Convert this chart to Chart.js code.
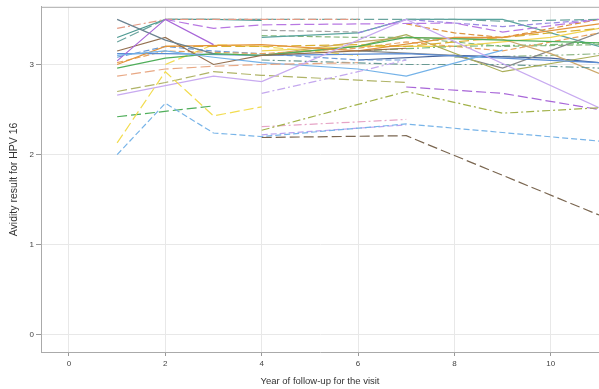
<!DOCTYPE html>
<html lang="en">
<head>
    <meta charset="UTF-8" />
    <title>Avidity result for HPV 16</title>
    <style>
        * { margin: 0; padding: 0; box-sizing: border-box; }
        body { background: #fff; width: 599px; height: 389px; overflow: hidden; }
        .wrap { position: relative; width: 599px; height: 389px; }
    </style>
</head>
<body>
    <div class="wrap">
        <canvas id="avidityChart" width="599" height="389"></canvas>
    </div>
    <script src="https://cdn.jsdelivr.net/npm/chart.js"></script>
    <script>
        // follow-up years, one value per year (null = no visit)
        const years = [1, 2, 3, 4, 5, 6, 7, 8, 9, 10, 11];
        const _ = null;

        const s01 = [_, _, _, 2.19, _, _, 2.21, _, _, _, 1.33];
        const s02 = [2.0, 2.57, 2.24, 2.2, _, _, 2.34, _, _, _, 2.15];
        const s03 = [2.13, 2.92, 2.43, 2.53, _, _, _, _, _, _, _];
        const s04 = [2.42, _, 2.54, _, _, _, _, _, _, _, _];
        const s05 = [_, _, _, 2.27, _, _, 2.7, _, 2.46, _, 2.52];
        const s06 = [_, _, _, 2.31, _, _, 2.39, _, _, _, _];
        const s07 = [_, _, _, 2.22, _, _, 2.33, _, _, _, _];
        const s08 = [_, _, _, _, _, _, 2.75, _, 2.68, _, 2.5];
        const s09 = [2.66, _, 2.87, 2.81, _, _, 3.5, _, _, _, 2.52];
        const s10 = [_, _, _, 2.68, _, 2.92, 3.05, _, _, _, _];
        const s11 = [2.7, 2.8, 2.92, 2.88, _, _, 2.8, _, _, _, _];
        const s12 = [2.87, 2.95, 2.98, 3.0, _, 3.02, _, _, _, _, _];
        const s13 = [3.1, 3.15, 3.08, 3.02, _, 2.95, 2.87, _, 3.16, _, _];
        const s14 = [3.04, 3.5, 3.22, _, _, _, _, _, _, _, _];
        const s15 = [_, 3.5, 3.4, 3.44, _, 3.45, _, 3.46, 3.36, _, 3.5];
        const s16 = [3.5, 3.27, 3.12, _, _, _, _, _, _, _, _];
        const s17 = [3.4, 3.5, _, 3.5, _, 3.5, _, _, _, _, _];
        const s18 = [3.25, 3.5, _, 3.5, _, _, 3.5, 3.5, 3.48, _, 3.5];
        const s19 = [3.3, 3.5, 3.5, 3.49, _, _, _, _, _, _, _];
        const s20 = [3.15, 3.3, 3.0, 3.1, _, 3.15, 3.18, _, _, _, _];
        const s21 = [3.0, 3.2, _, 3.22, _, 3.15, _, 3.3, 3.3, _, 3.45];
        const s22 = [2.96, 3.07, 3.12, 3.1, _, 3.2, 3.3, _, _, _, 3.24];
        const s23 = [3.12, 3.12, _, 3.1, _, _, 3.12, _, _, _, 3.02];
        const s24 = [_, 3.2, 3.2, 3.2, _, 3.22, 3.2, 3.25, _, _, 3.4];
        const s25 = [3.02, 3.15, _, 3.12, _, 3.18, 3.25, _, 3.15, _, 3.35];
        const s26 = [3.08, 3.2, 3.15, 3.12, _, 3.05, 3.05, _, _, _, _];
        const s27 = [_, _, _, 3.1, _, 3.2, 3.33, _, 2.92, _, 3.1];
        const s28 = [_, _, _, 3.05, _, _, 3.0, _, 3.0, _, 2.96];
        const s29 = [_, _, _, 3.1, _, 3.25, 3.3, _, 3.28, 3.12, 2.9];
        const s30 = [_, _, _, _, _, 3.15, _, 3.1, 2.96, _, 3.35];
        const s31 = [_, _, _, _, _, 3.05, _, 3.1, _, 3.07, 3.02];
        const s32 = [_, _, _, _, _, 3.15, _, 3.2, _, 3.22, 3.24];
        const s33 = [_, _, _, 3.15, _, 3.2, _, 3.2, _, 3.3, 3.4];
        const s34 = [_, _, _, _, _, _, 3.45, 3.35, 3.3, _, 3.5];
        const s35 = [_, _, _, _, _, 3.35, 3.5, _, 3.42, _, 3.5];
        const s36 = [_, _, _, 3.3, _, 3.35, 3.5, _, 3.5, _, 3.2];
        const s37 = [_, 3.0, 3.22, 3.2, _, 3.1, _, _, _, _, _];
        const s38 = [_, _, _, 3.32, _, 3.3, 3.3, _, 3.2, _, 3.22];
        const s39 = [_, _, _, 3.38, _, 3.36, _, _, _, _, _];
        const s40 = [_, _, _, _, _, _, _, 3.08, _, 3.1, 3.12];

        const xTicks = [0, 2, 4, 6, 8, 10];
        const yTicks = [0, 1, 2, 3];

        const allSeries = [s01, s02, s03, s04, s05, s06, s07, s08, s09, s10,
            s11, s12, s13, s14, s15, s16, s17, s18, s19, s20,
            s21, s22, s23, s24, s25, s26, s27, s28, s29, s30,
            s31, s32, s33, s34, s35, s36, s37, s38, s39, s40];

        // styles, same order as allSeries
        const colors = ['#7a6650', '#78b4e8', '#f2dc50', '#4fae5a', '#a2b24a', '#e6a4c6', '#b8a2f0', '#a866d8', '#c8aaf0', '#c4a8ee',
            '#b0b468', '#e8a884', '#74b2e8', '#a866d8', '#b878e2', '#6a8290', '#e49a84', '#6aa49e', '#4e9a92', '#947050',
            '#e4943c', '#4fae5a', '#5a8cd4', '#dab030', '#e6a25e', '#6a9ad8', '#aaae58', '#6a9a94', '#cca86c', '#888888',
            '#46639a', '#78b878', '#f0d452', '#dc9440', '#9888e2', '#5aa49e', '#f2dc50', '#86b87c', '#a4a4a4', '#92b88a'];
        const D = { solid: [], dash: [6, 3], long: [10, 4], short: [3, 3], dot: [8, 3, 2, 3] };
        const dashes = [D.long, D.dash, D.long, D.long, D.dot, D.dot, D.dash, D.long, D.solid, D.dot,
            D.long, D.long, D.solid, D.solid, D.long, D.solid, D.dot, D.long, D.solid, D.solid,
            D.solid, D.solid, D.solid, D.long, D.dash, D.dash, D.solid, D.dot, D.solid, D.solid,
            D.solid, D.dot, D.solid, D.dash, D.dash, D.solid, D.long, D.dash, D.dash, D.dot];

        const datasets = allSeries.map((vals, i) => ({
            data: years.map((x, j) => ({ x: x, y: vals[j] })).filter(p => p.y !== null),
            borderColor: colors[i],
            borderDash: dashes[i],
            borderWidth: 1.2,
            pointRadius: 0,
            fill: false,
            tension: 0
        }));

        // top frame line
        const frameTop = {
            id: 'frameTop',
            afterDraw(chart) {
                const a = chart.chartArea, c = chart.ctx;
                c.save();
                c.strokeStyle = '#aaaaaa';
                c.lineWidth = 1;
                c.beginPath();
                c.moveTo(a.left, a.top + 0.5);
                c.lineTo(a.right, a.top + 0.5);
                c.stroke();
                c.restore();
            }
        };

        const ctx = document.getElementById('avidityChart').getContext('2d');
        new Chart(ctx, {
            type: 'line',
            data: { datasets: datasets },
            plugins: [frameTop],
            options: {
                responsive: false,
                animation: false,
                layout: { padding: { top: 4, right: 0, bottom: 0, left: 0 } },
                plugins: { legend: { display: false }, tooltip: { enabled: false } },
                scales: {
                    x: {
                        type: 'linear',
                        min: -0.58,
                        max: 11.0,
                        afterFit(scale) { scale.height = 37; },
                        afterBuildTicks(scale) { scale.ticks = xTicks.map(v => ({ value: v })); },
                        ticks: { font: { family: 'Liberation Sans', size: 8 }, color: '#444', padding: 3, maxRotation: 0 },
                        grid: { color: '#e8e8e8', tickColor: '#999', tickLength: 4 },
                        border: { color: '#aaaaaa' },
                        title: {
                            display: true,
                            text: 'Year of follow-up for the visit',
                            font: { family: 'Liberation Sans', size: 9.5 },
                            color: '#333',
                            padding: { top: 2, bottom: 2 }
                        }
                    },
                    y: {
                        type: 'linear',
                        min: -0.19,
                        max: 3.64,
                        afterFit(scale) { scale.width = 41; },
                        afterBuildTicks(scale) { scale.ticks = yTicks.map(v => ({ value: v })); },
                        ticks: { font: { family: 'Liberation Sans', size: 8 }, color: '#444', padding: 2 },
                        grid: { color: '#e8e8e8', tickColor: '#999', tickLength: 5 },
                        border: { color: '#aaaaaa' },
                        title: {
                            display: true,
                            text: 'Avidity result for HPV 16',
                            font: { family: 'Liberation Sans', size: 10.5 },
                            color: '#333',
                            padding: { top: 8, bottom: 0 }
                        }
                    }
                }
            }
        });
    </script>
</body>
</html>
